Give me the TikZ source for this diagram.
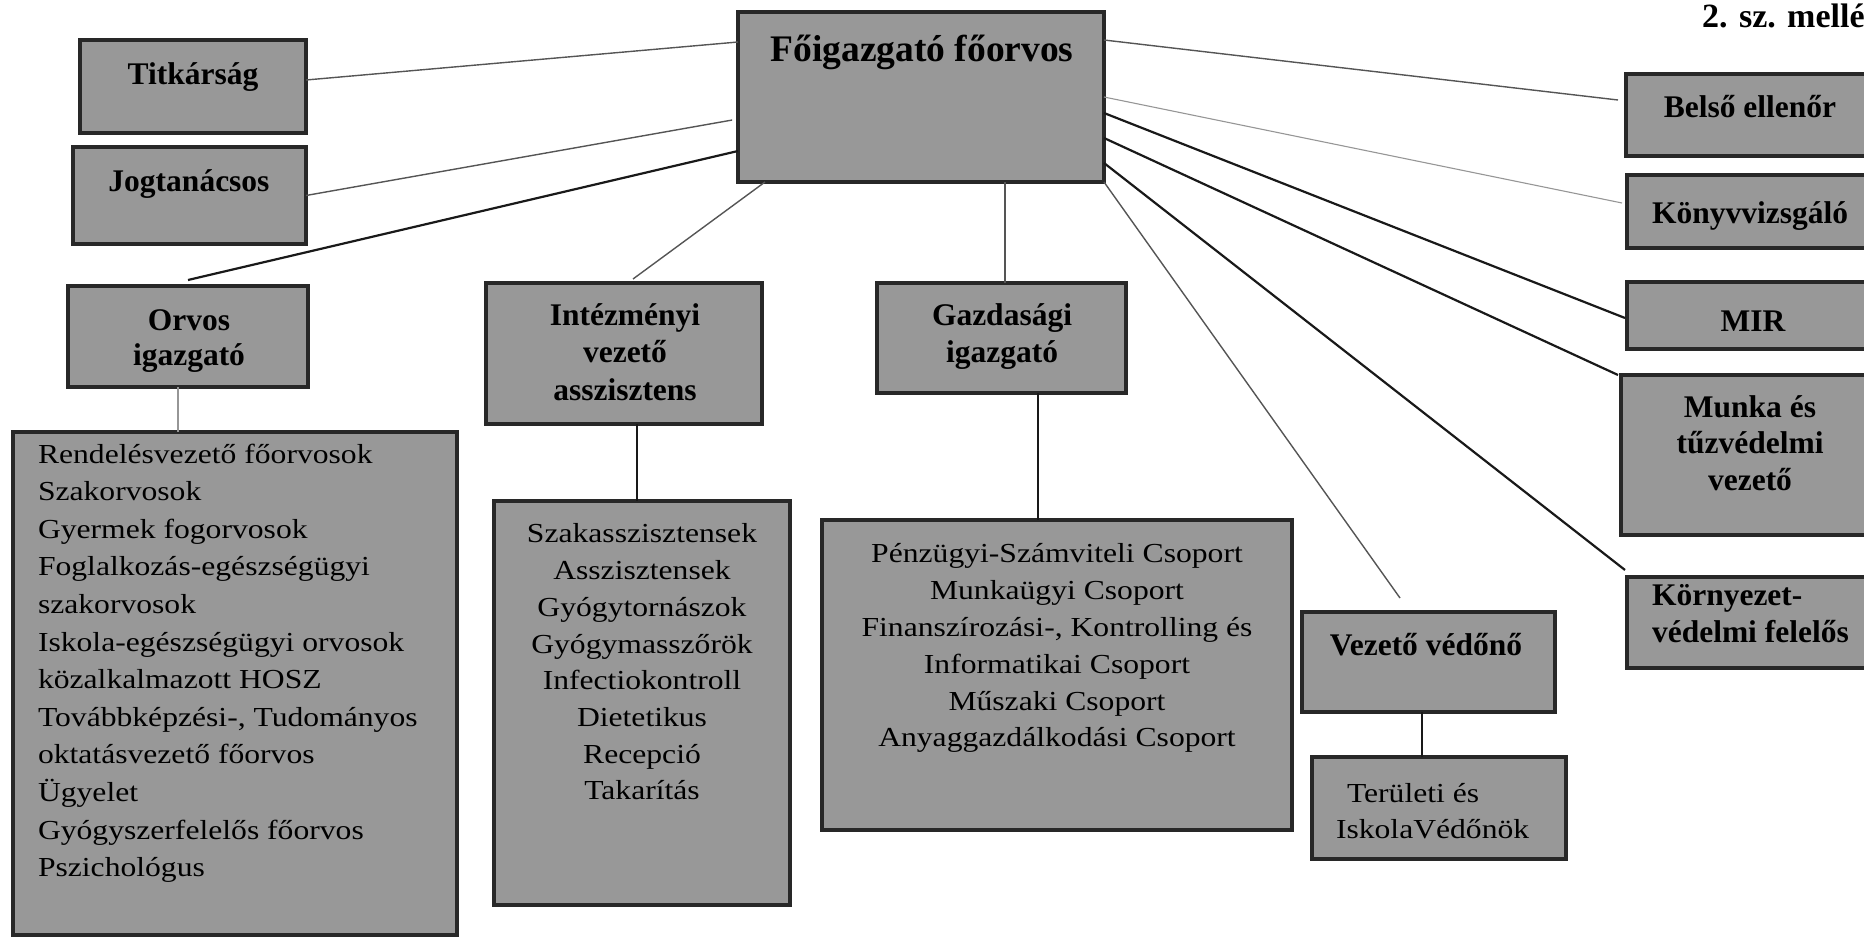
\documentclass[tikz,border=0pt]{standalone}
\usepackage{fontspec}
\setmainfont{Liberation Serif}
\newfontfamily\listfont[FakeStretch=1.15]{Liberation Serif}
\definecolor{boxfill}{RGB}{152,152,152}
\definecolor{boxline}{RGB}{40,40,40}
\definecolor{lnDark}{RGB}{25,25,25}
\definecolor{lnGray}{RGB}{85,85,85}
\definecolor{lnLight}{RGB}{150,150,150}
\tikzset{
  box/.style={draw=boxline, fill=boxfill, line width=4pt, inner sep=0pt, outer sep=0pt, anchor=north west},
  lbl/.style={font=\bfseries\fontsize{31.5}{36.5}\selectfont, inner sep=0pt, outer sep=0pt, anchor=base},
  mlbl/.style={font=\bfseries\fontsize{31.5}{36.5}\selectfont, inner sep=0pt, outer sep=0pt, anchor=north, align=center},
  lst/.style={inner sep=0pt, outer sep=0pt},
  dark/.style={draw=lnDark, line width=2.2pt},
  grayln/.style={draw=lnGray, line width=1.4pt},
  lightln/.style={draw=lnLight, line width=1.1pt}
}
\begin{document}
\begin{tikzpicture}[x=1pt, y=-1pt]
\useasboundingbox (0,0) rectangle (1864,939);
\clip (0,0) rectangle (1864,939);

% boxes
\node[box, minimum width=226pt, minimum height=93pt] (tit) at (80,40) {};
\node[box, minimum width=233pt, minimum height=97pt] (jog) at (73,147) {};
\node[box, minimum width=366pt, minimum height=170pt] (main) at (738,12) {};
\node[box, minimum width=247pt, minimum height=82pt] (bel) at (1626,74) {};
\node[box, minimum width=246pt, minimum height=73pt] (kon) at (1627,175) {};
\node[box, minimum width=246pt, minimum height=67pt] (mir) at (1627,282) {};
\node[box, minimum width=252pt, minimum height=160pt] (mun) at (1621,375) {};
\node[box, minimum width=246pt, minimum height=91pt] (kor) at (1627,577) {};
\node[box, minimum width=240pt, minimum height=101pt] (orv) at (68,286) {};
\node[box, minimum width=444pt, minimum height=503pt] (orl) at (13,432) {};
\node[box, minimum width=276pt, minimum height=141pt] (int) at (486,283) {};
\node[box, minimum width=296pt, minimum height=404pt] (inl) at (494,501) {};
\node[box, minimum width=249pt, minimum height=110pt] (gaz) at (877,283) {};
\node[box, minimum width=470pt, minimum height=310pt] (pen) at (822,520) {};
\node[box, minimum width=253pt, minimum height=100pt] (vez) at (1302,612) {};
\node[box, minimum width=254pt, minimum height=102pt] (ter) at (1312,757) {};

% labels
\node[font=\bfseries\fontsize{34}{38}\selectfont, inner sep=0pt, anchor=base west] (mell) at (1702,28) {2. sz. melléklet};
\node[lbl] (titT) at (193,85) {Titkárság};
\node[lbl] (jogT) at (189,192) {Jogtanácsos};
\node[lbl, font=\bfseries\fontsize{37.5}{40}\selectfont] (mainT) at (922,62) {Főigazgató főorvos};
\node[lbl] (belT) at (1750,118) {Belső ellenőr};
\node[lbl] (konT) at (1750,223) {Könyvvizsgáló};
\node[lbl] (mirT) at (1753,331) {MIR};
\node[mlbl] (munT) at (1750,391.5) {\strut Munka és\\tűzvédelmi\\vezető};
\node[mlbl, align=left, anchor=north west] (korT) at (1652,580) {\strut Környezet-\\védelmi felelős};
\node[mlbl, font=\bfseries\fontsize{31.5}{35.5}\selectfont] (orvT) at (189,305.2) {\strut Orvos\\igazgató};
\node[mlbl, font=\bfseries\fontsize{31.5}{37.5}\selectfont] (intT) at (625,298.8) {\strut Intézményi\\vezető\\asszisztens};
\node[mlbl, font=\bfseries\fontsize{31.5}{37}\selectfont] (gazT) at (1002,299.1) {\strut Gazdasági\\igazgató};
\node[lbl] (vezT) at (1426,655) {Vezető védőnő};

% lists
\node[lst, align=left, anchor=north west, font=\listfont\fontsize{27.5}{37.6}\selectfont] (orlT) at (38,436.7)
 {\strut Rendelésvezető főorvosok\\Szakorvosok\\Gyermek fogorvosok\\Foglalkozás-egészségügyi\\szakorvosok\\Iskola-egészségügyi orvosok\\közalkalmazott HOSZ\\Továbbképzési-, Tudományos\\oktatásvezető főorvos\\Ügyelet\\Gyógyszerfelelős főorvos\\Pszichológus};
\node[lst, align=center, anchor=north, font=\listfont\fontsize{27.5}{36.7}\selectfont] (inlT) at (642,517.3)
 {\strut Szakasszisztensek\\Asszisztensek\\Gyógytornászok\\Gyógymasszőrök\\Infectiokontroll\\Dietetikus\\Recepció\\Takarítás};
\node[lst, align=center, anchor=north, font=\listfont\fontsize{27.5}{36.8}\selectfont] (penT) at (1057,537.2)
 {\strut Pénzügyi-Számviteli Csoport\\Munkaügyi Csoport\\Finanszírozási-, Kontrolling és\\Informatikai Csoport\\Műszaki Csoport\\Anyaggazdálkodási Csoport};
\node[lst, align=left, anchor=north west, font=\listfont\fontsize{27.5}{36}\selectfont] (terT) at (1336,776.8)
 {\strut\hspace*{11pt}Területi és\\IskolaVédőnök};

% connectors, left side
\draw[grayln] ([yshift=6.5pt]tit.east) -- ([yshift=-30pt]main.north west);
\draw[grayln, shorten >=6pt] (jog.east) -- ([yshift=-107pt]main.north west);
\draw[dark] ([yshift=6pt]orv.north) -- ([yshift=-139pt]main.north west);
\draw[grayln] ([xshift=27pt]main.south west) -- ([xshift=9pt,yshift=4pt]int.north);
\draw[grayln] ([xshift=267pt]main.south west) -- ([xshift=3.5pt]gaz.north);
% connectors, right side
\draw[grayln] ([yshift=-28pt]main.north east) -- ([xshift=-8pt,yshift=15pt]bel.west);
\draw[lightln] ([yshift=-85pt]main.north east) -- ([xshift=-5pt,yshift=8.5pt]kon.west);
\draw[dark] ([yshift=-101pt]main.north east) -- ([xshift=-2pt,yshift=-2.5pt]mir.west);
\draw[dark] ([yshift=-126pt]main.north east) -- ([xshift=-3pt]mun.north west);
\draw[dark] ([yshift=-151pt]main.north east) -- ([xshift=-2pt,yshift=7pt]kor.north west);
\draw[grayln] (main.south east) -- ([xshift=-28.5pt,yshift=14pt]vez.north);
% vertical connectors to lists
\draw[lightln] ([xshift=-10pt]orv.south) -- ([xshift=-10pt]orv.south |- orl.north);
\draw[dark] ([xshift=13pt]int.south) -- ([xshift=13pt]int.south |- inl.north);
\draw[dark] ([xshift=36.5pt]gaz.south) -- ([xshift=36.5pt]gaz.south |- pen.north);
\draw[dark] ([xshift=-6.5pt]vez.south) -- ([xshift=-6.5pt]vez.south |- ter.north);
\end{tikzpicture}
\end{document}
